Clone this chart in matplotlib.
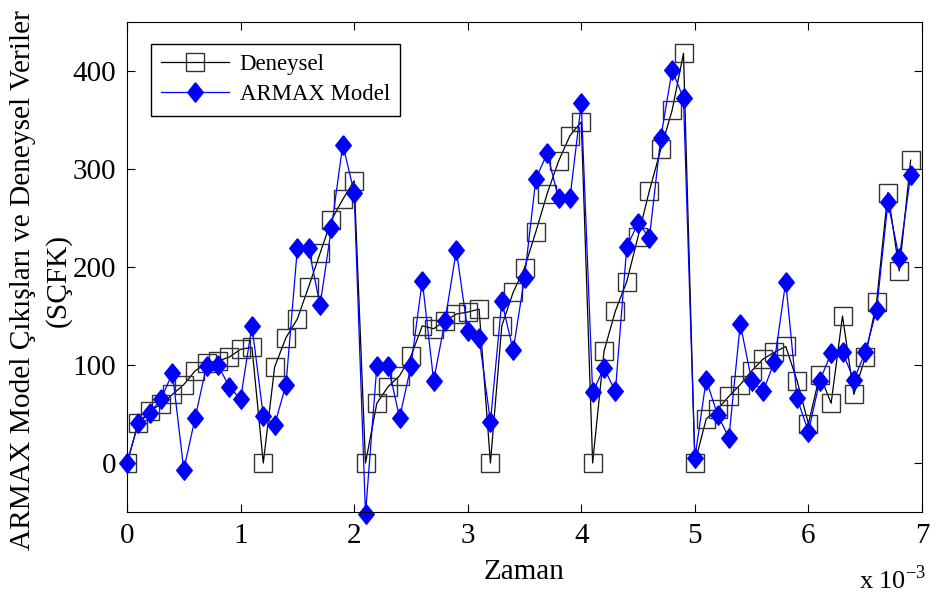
import matplotlib
matplotlib.use("Agg")
import matplotlib.pyplot as plt
import numpy as np

plt.rcParams['font.family'] = ['Liberation Serif', 'DejaVu Serif']
plt.rcParams['mathtext.fontset'] = 'custom'
plt.rcParams['mathtext.rm'] = 'Liberation Serif'

# zaman (x 10^-3)
zaman = np.arange(70) / 10.0

deneysel = [0, 41, 53, 60, 70, 80, 94, 102, 104, 108,
            116, 118, 0, 98, 128, 147, 180, 214, 248, 269,
            288, 0, 61, 78, 89, 109, 140, 137, 145, 152,
            154, 157, 0, 140, 174, 199, 236, 275, 308, 334,
            348, 0, 114, 155, 185, 231, 278, 320, 360, 418,
            0, 45, 55, 68, 80, 94, 106, 113, 119, 84,
            40, 90, 61, 150, 70, 108, 164, 276, 196, 309]

armax = [0, 41, 51, 65, 92, -7, 46, 99, 100, 78,
         65, 140, 48, 39, 80, 219, 219, 161, 240, 325,
         276, -52, 99, 99, 46, 99, 186, 84, 145, 217,
         135, 128, 42, 165, 115, 189, 290, 316, 270, 270,
         367, 72, 97, 73, 220, 245, 230, 332, 401, 372,
         5, 85, 49, 26, 142, 84, 73, 103, 185, 66,
         32, 84, 112, 113, 85, 113, 156, 266, 209, 294]

# matlab style diamond (a bit taller than wide)
elmas = [(0, 1), (0.8, 0), (0, -1), (-0.8, 0), (0, 1)]

fig = plt.figure(figsize=(9.32, 6.0), dpi=100)
ax = fig.add_axes([127/932, 88/600, 795/932, 490/600])

ax.plot(zaman, deneysel, color='black', linewidth=0.9, marker='s', markersize=13,
        markerfacecolor='none', markeredgecolor='#333333', markeredgewidth=1.0,
        label='Deneysel')
ax.plot(zaman, armax, color='blue', linewidth=0.9, marker=elmas, markersize=14,
        markerfacecolor='blue', markeredgecolor='blue', label='ARMAX Model',
        clip_on=False)

ax.set_xlim(0, 7)
ax.set_ylim(-50, 450)
ax.set_xticks(range(8))
ax.set_yticks([0, 100, 200, 300, 400])
ax.tick_params(direction='in', top=True, right=True, labelsize=21, length=6, pad=8)

ax.set_xlabel('Zaman', fontsize=21, labelpad=7)
ax.set_ylabel('ARMAX Model Çıkışları ve Deneysel Veriler\n(SÇFK)', fontsize=21.2,
              linespacing=1.4)
ax.yaxis.set_label_coords(-0.070, 0.473)
fig.text(859/932, 1 - 580/600, 'x 10$^{-3}$', fontsize=19, ha='left', va='center')

leg = ax.legend(loc='upper left', bbox_to_anchor=(0.03, 0.955), fontsize=16.4,
                fancybox=False, framealpha=1, edgecolor='black', handlelength=3.0,
                handletextpad=0.45, borderpad=0.45, labelspacing=0.4, borderaxespad=0)
leg.get_frame().set_linewidth(1.0)

fig.savefig('out.png', dpi=100)
